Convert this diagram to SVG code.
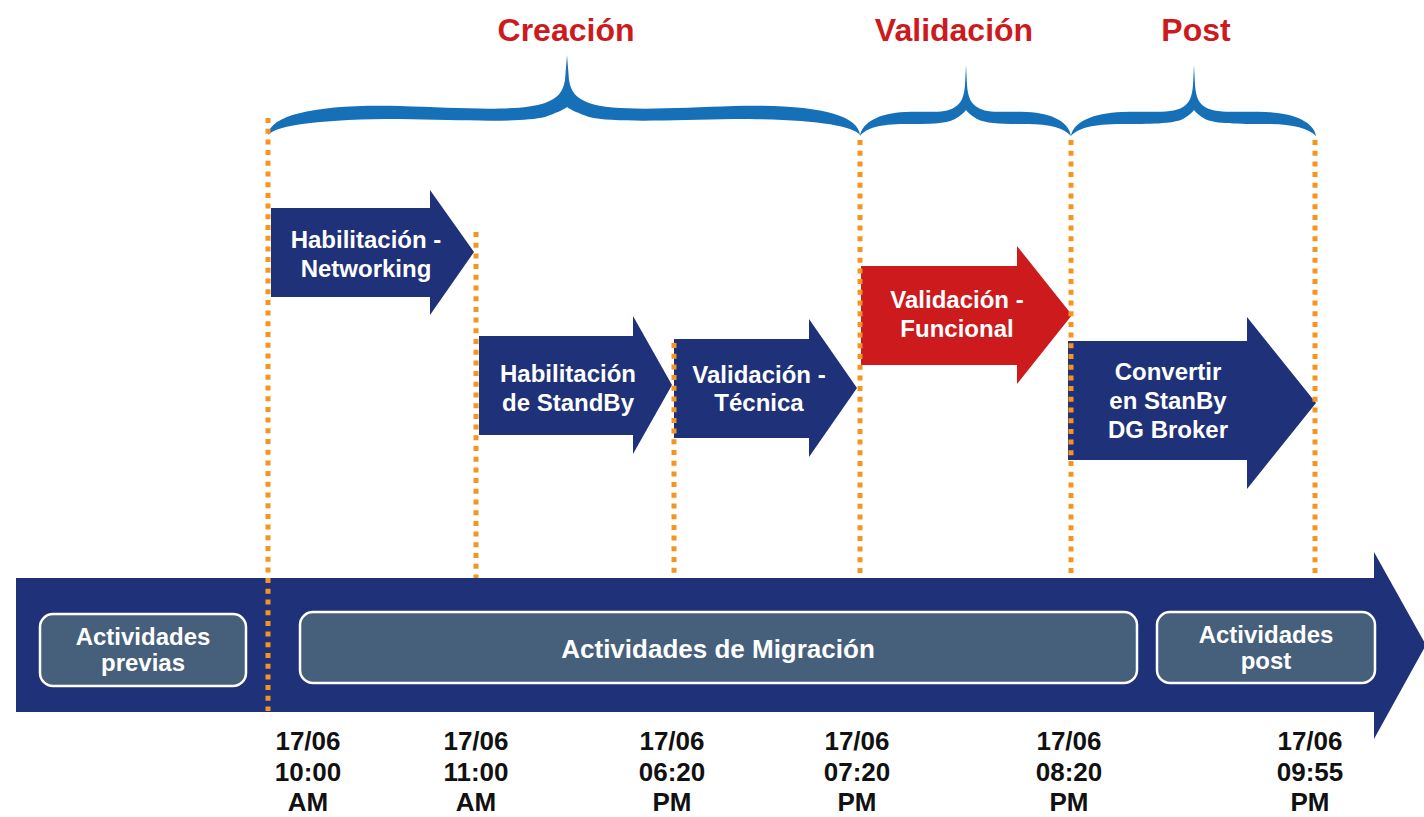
<svg xmlns="http://www.w3.org/2000/svg" width="1424" height="817" viewBox="0 0 1424 817">
<style>
.navy{fill:#1f3179}
.red{fill:#cc1a1d}
.brace{fill:#1570b8}
.dot{stroke:#f7941e;stroke-width:5;stroke-dasharray:5 5.7;fill:none}
.box{fill:#465f7b;stroke:#ffffff;stroke-width:2.5}
.lbl{font-family:"Liberation Sans",Arial,sans-serif;font-weight:bold;fill:#ffffff;text-anchor:middle;font-size:24px}
.blbl{font-family:"Liberation Sans",Arial,sans-serif;font-weight:bold;fill:#ffffff;text-anchor:middle;font-size:26px}
.blbl2{font-family:"Liberation Sans",Arial,sans-serif;font-weight:bold;fill:#ffffff;text-anchor:middle;font-size:24px}
.title{font-family:"Liberation Sans",Arial,sans-serif;font-weight:bold;fill:#cc1a1d;text-anchor:middle;font-size:32px}
.date{font-family:"Liberation Sans",Arial,sans-serif;font-weight:bold;fill:#111111;text-anchor:middle;font-size:26px}
</style>
<rect width="1424" height="817" fill="#ffffff"/>

<g id="titles">
<text class="title" x="566" y="41">Creación</text>
<text class="title" x="954" y="41">Validación</text>
<text class="title" x="1196" y="41">Post</text>
</g>

<g id="braces">
<path id="brace-creacion" class="brace" d="M268,135 C270,114 320,104 400,106 C460,108 520,112 545,103 C558,98 563,92 565,80 L567,55 L569,80 C571,92 576,98 589,103 C614,112 674,108 734,106 C814,104 858,114 860,135 C852,125 810,119 734,119 C674,120 614,123 589,117 C578,113 571,110 567,107 C563,110 556,113 545,117 C520,123 460,120 400,119 C324,119 276,125 268,135 Z"/>
<path id="brace-validacion" class="brace" d="M860,136 C862,122 880,113 905,112 C930,111 945,114 955,107 C961,103 964,98 965,85 L966,65 L967,85 C968,98 971,103 977,107 C987,114 1002,111 1027,112 C1052,113 1069,122 1071,136 C1064,128 1050,124 1027,124 C1002,124 987,124 977,119 C972,116 968,113 966,110 C964,113 960,116 955,119 C945,124 930,124 905,124 C880,124 866,128 860,136 Z"/>
<path id="brace-post" class="brace" d="M1071,136 C1073,122 1093,113 1122,112 C1150,111 1172,114 1183,107 C1189,103 1192,98 1193,85 L1194,65 L1195,85 C1196,98 1199,103 1205,107 C1216,114 1238,111 1266,112 C1294,113 1314,122 1316,136 C1308,128 1292,124 1266,124 C1238,124 1216,124 1205,119 C1200,116 1196,113 1194,110 C1192,113 1188,116 1183,119 C1172,124 1150,124 1122,124 C1093,124 1078,128 1071,136 Z"/>
</g>

<g id="timeline">
<polygon class="navy" points="16,578 1374,578 1374,552 1426,645 1374,739 1374,712 16,712"/>
</g>

<g id="box-previas">
<rect class="box" x="40" y="614" width="206" height="72" rx="13"/>
<text class="blbl2" x="143" y="645">Actividades</text>
<text class="blbl2" x="143" y="671">previas</text>
</g>
<g id="box-migracion">
<rect class="box" x="300" y="612" width="837" height="71" rx="13"/>
<text class="blbl" x="718" y="658">Actividades de Migración</text>
</g>
<g id="box-post">
<rect class="box" x="1157" y="612" width="218" height="71" rx="13"/>
<text class="blbl2" x="1266" y="643">Actividades</text>
<text class="blbl2" x="1266" y="669">post</text>
</g>

<g id="step-networking">
<polygon class="navy" points="271,208 430,208 430,190 474,252 430,315 430,297 271,297"/>
<text class="lbl" x="366" y="248">Habilitación -</text>
<text class="lbl" x="366" y="277">Networking</text>
</g>
<g id="step-standby">
<polygon class="navy" points="479,336 633,336 633,316 672,385 633,454 633,435 479,435"/>
<text class="lbl" x="568" y="382">Habilitación</text>
<text class="lbl" x="568" y="411">de StandBy</text>
</g>
<g id="step-tecnica">
<polygon class="navy" points="674,339 809,339 809,319 857,388 809,457 809,438 674,438"/>
<text class="lbl" x="759" y="383">Validación -</text>
<text class="lbl" x="759" y="411">Técnica</text>
</g>
<g id="step-funcional">
<polygon class="red" points="861,266 1017,266 1017,246 1072,315 1017,384 1017,365 861,365"/>
<text class="lbl" x="957" y="308">Validación -</text>
<text class="lbl" x="957" y="337">Funcional</text>
</g>
<g id="step-convertir">
<polygon class="navy" points="1068,341 1247,341 1247,317 1316,403 1247,489 1247,460 1068,460"/>
<text class="lbl" x="1168" y="380">Convertir</text>
<text class="lbl" x="1168" y="409">en StanBy</text>
<text class="lbl" x="1168" y="438">DG Broker</text>
</g>

<g id="connectors">
<line class="dot" x1="268" y1="118" x2="268" y2="711"/>
<line class="dot" x1="476" y1="232" x2="476" y2="578"/>
<line class="dot" x1="674" y1="343" x2="674" y2="576"/>
<line class="dot" x1="860" y1="140" x2="860" y2="576"/>
<line class="dot" x1="1071" y1="140" x2="1071" y2="576"/>
<line class="dot" x1="1315" y1="140" x2="1315" y2="576"/>
</g>

<g id="dates">
<text class="date" x="308" y="750">17/06</text><text class="date" x="308" y="781">10:00</text><text class="date" x="308" y="811">AM</text>
<text class="date" x="476" y="750">17/06</text><text class="date" x="476" y="781">11:00</text><text class="date" x="476" y="811">AM</text>
<text class="date" x="672" y="750">17/06</text><text class="date" x="672" y="781">06:20</text><text class="date" x="672" y="811">PM</text>
<text class="date" x="857" y="750">17/06</text><text class="date" x="857" y="781">07:20</text><text class="date" x="857" y="811">PM</text>
<text class="date" x="1069" y="750">17/06</text><text class="date" x="1069" y="781">08:20</text><text class="date" x="1069" y="811">PM</text>
<text class="date" x="1310" y="750">17/06</text><text class="date" x="1310" y="781">09:55</text><text class="date" x="1310" y="811">PM</text>
</g>
</svg>
